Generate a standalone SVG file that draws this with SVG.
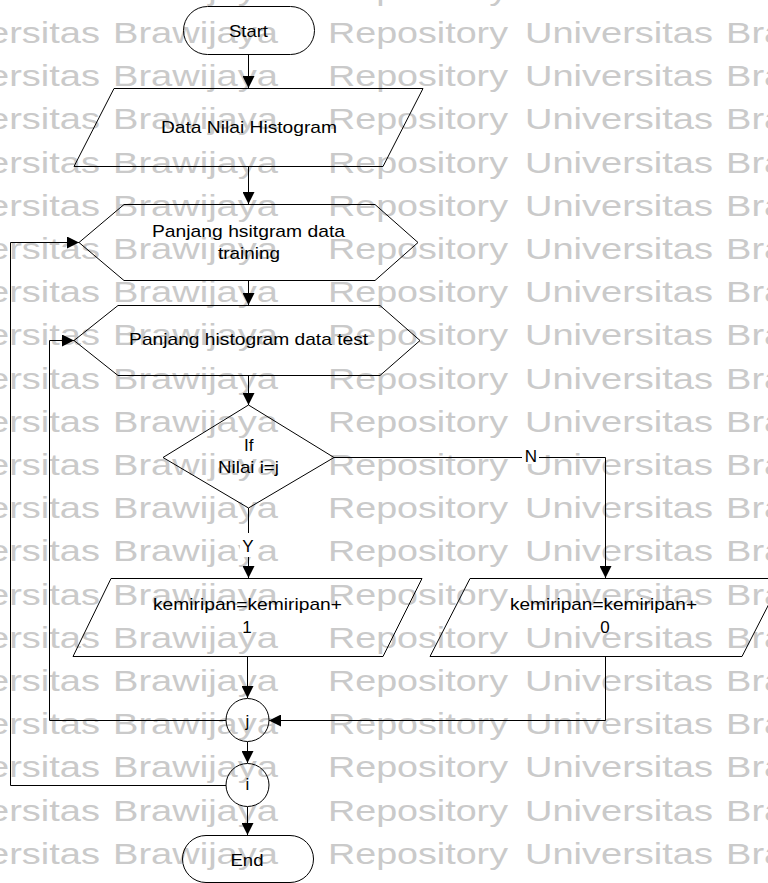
<svg xmlns="http://www.w3.org/2000/svg" xmlns:xlink="http://www.w3.org/1999/xlink" width="768" height="883" viewBox="0 0 768 883">
<style>
.wm{font-family:"Liberation Sans",Arial,sans-serif;font-size:30px;fill:#cacaca}
.sh{fill:none;stroke:#000;stroke-width:1}
.t{font-family:"Liberation Sans",Arial,sans-serif;font-size:17px;fill:#000;text-anchor:middle}
.c{fill:none;stroke:#000;stroke-width:1}
.lb{fill:#fff;stroke:none}
</style>
<defs>
<marker id="ah" markerUnits="userSpaceOnUse" markerWidth="13" markerHeight="12" refX="12" refY="6" orient="auto">
<path d="M0,0 L12,6 L0,12 z" fill="#000"/>
</marker>
<g id="wmrow">
<text class="wm" x="-88" y="0" textLength="188" lengthAdjust="spacingAndGlyphs">Universitas</text>
<text class="wm" x="113" y="0" textLength="165" lengthAdjust="spacingAndGlyphs">Brawijaya</text>
<text class="wm" x="328" y="0" textLength="180" lengthAdjust="spacingAndGlyphs">Repository</text>
<text class="wm" x="525" y="0" textLength="188" lengthAdjust="spacingAndGlyphs">Universitas</text>
<text class="wm" x="726" y="0" textLength="165" lengthAdjust="spacingAndGlyphs">Brawijaya</text>
</g>
</defs>
<rect x="0" y="0" width="768" height="883" fill="#fff"/>
<g id="watermark">
<use xlink:href="#wmrow" y="0"/>
<use xlink:href="#wmrow" y="43"/>
<use xlink:href="#wmrow" y="86.2"/>
<use xlink:href="#wmrow" y="129.4"/>
<use xlink:href="#wmrow" y="172.6"/>
<use xlink:href="#wmrow" y="215.8"/>
<use xlink:href="#wmrow" y="259"/>
<use xlink:href="#wmrow" y="302.2"/>
<use xlink:href="#wmrow" y="345.4"/>
<use xlink:href="#wmrow" y="388.6"/>
<use xlink:href="#wmrow" y="431.8"/>
<use xlink:href="#wmrow" y="475"/>
<use xlink:href="#wmrow" y="518.2"/>
<use xlink:href="#wmrow" y="561.4"/>
<use xlink:href="#wmrow" y="604.6"/>
<use xlink:href="#wmrow" y="647.8"/>
<use xlink:href="#wmrow" y="691"/>
<use xlink:href="#wmrow" y="734.2"/>
<use xlink:href="#wmrow" y="777.4"/>
<use xlink:href="#wmrow" y="820.6"/>
<use xlink:href="#wmrow" y="863.8"/>
</g>
<g id="connectors">
<path class="c" d="M248.5,55 V88" marker-end="url(#ah)"/>
<path class="c" d="M248.5,166 V204" marker-end="url(#ah)"/>
<path class="c" d="M248.5,280 V305" marker-end="url(#ah)"/>
<path class="c" d="M248.5,375 V405" marker-end="url(#ah)"/>
<path class="c" d="M248.5,508 V578" marker-end="url(#ah)"/>
<path class="c" d="M334,457.5 H605.5 V578" marker-end="url(#ah)"/>
<path class="c" d="M247.5,656 V698" marker-end="url(#ah)"/>
<path class="c" d="M605.5,656 V720.5 H269" marker-end="url(#ah)"/>
<path class="c" d="M247.5,742 V763" marker-end="url(#ah)"/>
<path class="c" d="M247.5,807 V835" marker-end="url(#ah)"/>
<path class="c" d="M226,720.5 H49.5 V340.5 H74" marker-end="url(#ah)"/>
<path class="c" d="M226,785.5 H10.5 V242.5 H79" marker-end="url(#ah)"/>
<rect class="lb" x="240" y="533" width="17" height="24"/>
<text class="t" x="248" y="552">Y</text>
<rect class="lb" x="522" y="447" width="17" height="17"/>
<text class="t" x="531" y="462">N</text>
</g>
<g id="start">
<rect class="sh" x="183.5" y="6.5" width="131" height="48" rx="24" ry="24"/>
<text class="t" x="248.5" y="37" textLength="39" lengthAdjust="spacingAndGlyphs">Start</text>
</g>
<g id="data">
<polygon class="sh" points="114,88.5 423,88.5 383,166.5 74,166.5"/>
<text class="t" x="249" y="133" textLength="176" lengthAdjust="spacingAndGlyphs">Data Nilai Histogram</text>
</g>
<g id="hex1">
<polygon class="sh" points="124,204.5 375,204.5 418,242.5 375,280.5 124,280.5 79,242.5"/>
<text class="t" x="248.5" y="237" textLength="193" lengthAdjust="spacingAndGlyphs">Panjang hsitgram data</text>
<text class="t" x="249" y="259" textLength="62" lengthAdjust="spacingAndGlyphs">training</text>
</g>
<g id="hex2">
<polygon class="sh" points="118,305.5 380,305.5 420,340.5 380,375.5 118,375.5 74,340.5"/>
<text class="t" x="248.6" y="345" textLength="239" lengthAdjust="spacingAndGlyphs">Panjang histogram data test</text>
</g>
<g id="decision">
<polygon class="sh" points="248.5,405 334,457.5 248.5,508 163,457.5"/>
<text class="t" x="248.7" y="451">If</text>
<text class="t" x="248.5" y="473" textLength="61" lengthAdjust="spacingAndGlyphs">Nilai i=j</text>
</g>
<g id="add1">
<polygon class="sh" points="111,578.5 422,578.5 383,656.5 73,656.5"/>
<text class="t" x="247.5" y="610" textLength="189" lengthAdjust="spacingAndGlyphs">kemiripan=kemiripan+</text>
<text class="t" x="247" y="633">1</text>
</g>
<g id="add0">
<polygon class="sh" points="470,578.5 782,578.5 742,656.5 430,656.5"/>
<text class="t" x="603.5" y="610" textLength="187" lengthAdjust="spacingAndGlyphs">kemiripan=kemiripan+</text>
<text class="t" x="605" y="633">0</text>
</g>
<g id="loopj">
<circle class="sh" cx="247.5" cy="720" r="21.5"/>
<text class="t" x="247.5" y="727">j</text>
</g>
<g id="loopi">
<circle class="sh" cx="247.5" cy="785" r="21.5"/>
<text class="t" x="247.5" y="790">i</text>
</g>
<g id="end">
<rect class="sh" x="182.5" y="835.5" width="131" height="47" rx="23.5" ry="23.5"/>
<text class="t" x="247" y="866" textLength="33" lengthAdjust="spacingAndGlyphs">End</text>
</g>
</svg>
